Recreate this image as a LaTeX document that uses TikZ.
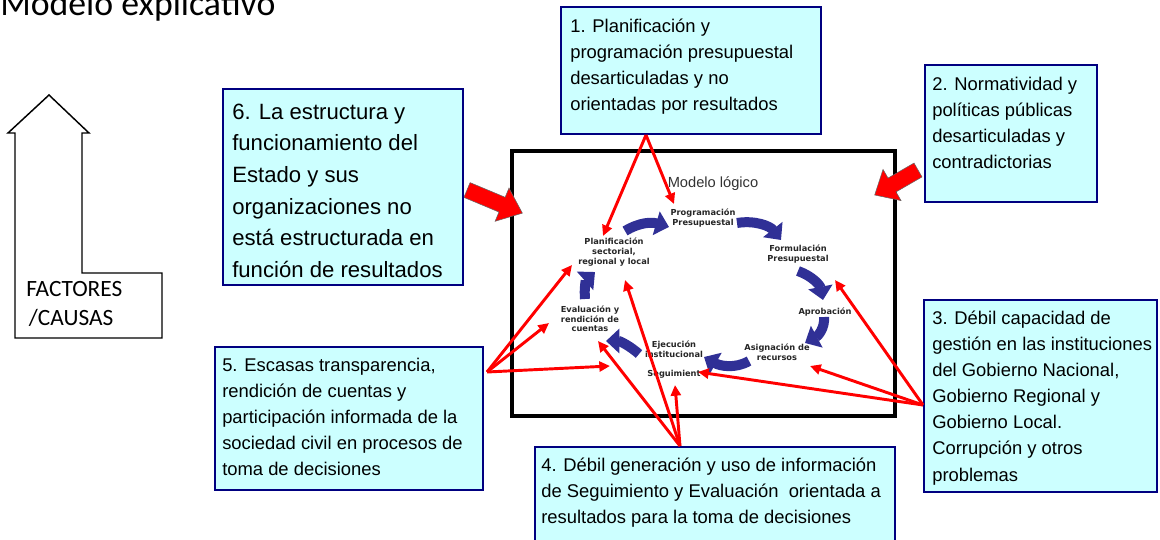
\documentclass[tikz,border=0pt]{standalone}
\usepackage{fontspec}
\setmainfont{Liberation Sans}
\newfontfamily\calib{Carlito}
\newfontfamily\dvs{DejaVu Sans}
\usetikzlibrary{arrows.meta,fit}
\definecolor{boxfill}{RGB}{204,255,255}
\definecolor{boxline}{RGB}{0,0,128}
\definecolor{cycblue}{RGB}{48,48,150}
\definecolor{redarr}{RGB}{255,0,0}
\newcommand\tstrut{\rule{0pt}{14pt}}
\newcommand\bstrut{\rule{0pt}{17pt}}
\begin{document}
\begin{tikzpicture}[x=0.75pt,y=-0.75pt,
  cbox/.style={draw=boxline, line width=1.5pt, fill=boxfill, inner sep=0pt},
  ctext/.style={anchor=north west, inner sep=0pt, align=left, font=\fontsize{13.8}{19.6}\selectfont},
  btext/.style={anchor=north west, inner sep=0pt, align=left, font=\fontsize{16.6}{23.7}\selectfont},
  clabel/.style={inner sep=0pt, align=center, font=\dvs\bfseries\fontsize{6.2}{7.2}\selectfont, text=black!85},
  cycarrow/.style={draw=cycblue, line width=7.5pt, -{Triangle[width=18pt,length=10pt]}, cycblue},
  redline/.style={draw=redarr, line width=2.2pt, -{Triangle[width=7.5pt,length=8pt]}},
  blockred/.style={fill=redarr, draw=black!60, line width=0.4pt}
]
\useasboundingbox (0,0) rectangle (1160,539);

% title
\node[anchor=base west, inner sep=0pt, font=\calib\fontsize{26.8}{30}\selectfont] (title) at (0,15) {Modelo explicativo};

% factores arrow
\draw[line width=1.1pt] (49,95) -- (89,133) -- (82,133) -- (82,273) -- (162,273) -- (162,338) -- (15,338) -- (15,133) -- (8,133) -- cycle;
\node[anchor=north west, inner sep=0pt, align=left, font=\calib\fontsize{17.5}{21.75}\selectfont] (fact) at (26,277.3) {\tstrut FACTORES\\\hspace{2pt}/CAUSAS};

% frame
\node[draw=black, line width=2.3pt, inner sep=0pt, fit={(512,151) (895,416)}] (frame) {};
\node[anchor=base, inner sep=0pt, font=\fontsize{11}{13}\selectfont, text=black!80] (ml) at (713,187) {Modelo lógico};

% cycle labels
\node[clabel] (prog) at (703,218) {Programación\\Presupuestal};
\node[clabel] (form) at (798,254) {Formulación\\Presupuestal};
\node[clabel] (apro) at (825,312) {Aprobación};
\node[clabel] (asig) at (777,352) {Asignación de\\recursos};
\node[clabel, anchor=north] (ejec) at (674,341) {Ejecución\\institucional\\[7pt]Seguimient};
\node[clabel] (eval) at (590,319) {Evaluación y\\rendición de\\cuentas};
\node[clabel] (plan) at (614,252) {Planificación\\sectorial,\\regional y local};

% cycle arrows
\draw[cycarrow] (625,231) .. controls (640,222) and (652,222) .. (669,227);
\draw[cycarrow] (737,223) .. controls (755,220) and (770,226) .. (781,240);
\draw[cycarrow] (798,271) .. controls (812,276) and (820,285) .. (823,300);
\draw[cycarrow] (824,317) .. controls (825,328) and (818,336) .. (805,343);
\draw[cycarrow] (749,361) .. controls (735,369) and (720,366) .. (704,357);
\draw[cycarrow] (639,354) .. controls (630,346) and (620,341) .. (606,341);
\draw[cycarrow] (585,299) .. controls (584,288) and (586,280) .. (595,272);

% red block arrows
\begin{scope}[shift={(467,190)}, rotate=-22.7]
  \path[blockred] (0,-8) -- (38,-8) -- (38,-18) -- (60,0) -- (38,18) -- (38,8) -- (0,8) -- cycle;
\end{scope}
\begin{scope}[shift={(918,170)}, rotate=210]
  \path[blockred] (0,-8) -- (30,-8) -- (30,-18) -- (50,0) -- (30,18) -- (30,8) -- (0,8) -- cycle;
\end{scope}

% boxes
\node[cbox, fit={(561,7) (821,134)}] (b1) {};
\node[ctext] (t1) at (570,13.5) {\tstrut 1. Planificación y\\programación presupuestal\\desarticuladas y no\\orientadas por resultados};

\node[cbox, fit={(925,65) (1097,202)}] (b2) {};
\node[ctext] (t2) at (932,71.3) {\tstrut 2. Normatividad y\\políticas públicas\\desarticuladas y\\contradictorias};

\node[cbox, fit={(924,300) (1157,492)}] (b3) {};
\node[ctext] (t3) at (932,305.3) {\tstrut 3. Débil capacidad de\\gestión en las instituciones\\del Gobierno Nacional,\\Gobierno Regional y\\Gobierno Local.\\Corrupción y otros\\problemas};

\node[cbox, fit={(535,447) (895,560)}] (b4) {};
\node[ctext] (t4) at (541,452.5) {\tstrut 4. Débil generación y uso de información\\de Seguimiento y Evaluación \ orientada a\\resultados para la toma de decisiones};

\node[cbox, fit={(215,347) (483,490)}] (b5) {};
\node[ctext] (t5) at (222,352.3) {\tstrut 5. Escasas transparencia,\\rendición de cuentas y\\participación informada de la\\sociedad civil en procesos de\\toma de decisiones};

\node[cbox, fit={(223,89) (463,285)}] (b6) {};
\node[btext] (t6) at (232,96.3) {\bstrut 6. La estructura y\\funcionamiento del\\Estado y sus\\organizaciones no\\está estructurada en\\función de resultados};

% red connector endpoints
\coordinate (s1) at (646,135);
\coordinate (s3) at (923,405);
\coordinate (s5) at (487,372);
\coordinate (s4) at (680,446);
\coordinate (e1a) at (674,204);
\coordinate (e1b) at (603,236);
\coordinate (e3a) at (835,280);
\coordinate (e3b) at (810,366);
\coordinate (e3c) at (698,372);
\coordinate (e5a) at (572,265);
\coordinate (e5b) at (549,323);
\coordinate (e5c) at (610,366);
\coordinate (e4a) at (598,341);
\coordinate (e4b) at (625,280);
\coordinate (e4c) at (675,385);

\draw[redline] (s1) -- (e1a);
\draw[redline] (s1) -- (e1b);
\draw[redline] (s3) -- (e3a);
\draw[redline] (s3) -- (e3b);
\draw[redline] (s3) -- (e3c);
\draw[redline] (s5) -- (e5a);
\draw[redline] (s5) -- (e5b);
\draw[redline] (s5) -- (e5c);
\draw[redline] (s4) -- (e4a);
\draw[redline] (s4) -- (e4b);
\draw[redline] (s4) -- (e4c);
\end{tikzpicture}
\end{document}
